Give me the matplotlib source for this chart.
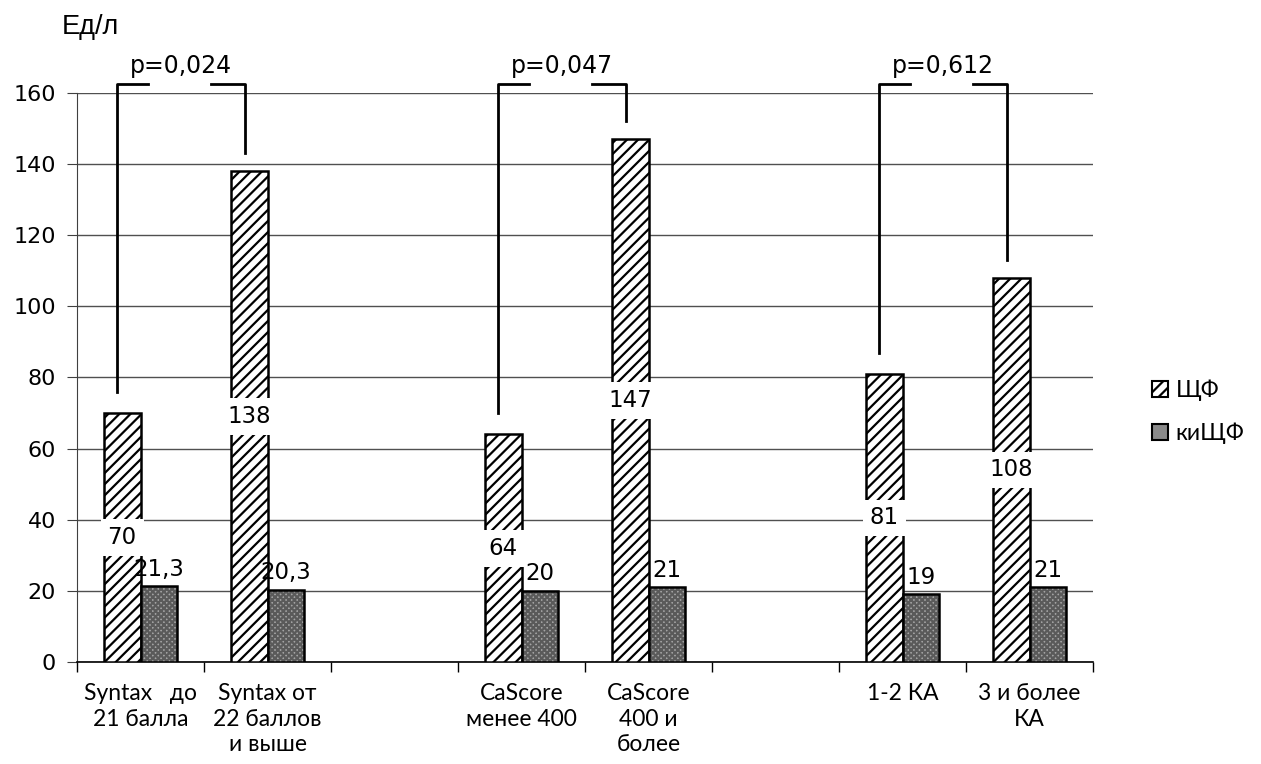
import matplotlib
matplotlib.use('Agg')
import matplotlib.pyplot as plt
from matplotlib.patches import Patch
import numpy as np

categories = ['Syntax   до\n21 балла', 'Syntax от\n22 баллов\nи выше',
              'CaScore\nменее 400', 'CaScore\n400 и\nболее',
              '1-2 КА', '3 и более\nКА']
shf = [70, 138, 64, 147, 81, 108]
kishf = [21.3, 20.3, 20, 21, 19, 21]
p_values = ['p=0,024', 'p=0,047', 'p=0,612']
series_names = ['ЩФ', 'киЩФ']

plt.rcParams['hatch.linewidth'] = 1.6
label_font = 'Lato'

fig = plt.figure(figsize=(12.61, 7.64), dpi=100)
ax = fig.add_axes([0.0611, 0.1335, 0.8057, 0.7448])

# пары столбцов, между парами пустой слот
x = np.arange(len(categories))
x = x + x // 2
w = 0.29

ax.bar(x - w / 2, shf, w, color='white', edgecolor='black', hatch='///',
       linewidth=1.8, zorder=3)
ax.bar(x + w / 2, kishf, w, color='#a4a4a4', edgecolor='#5a5a5a', hatch='xxxxxx',
       linewidth=0, zorder=3)
ax.bar(x + w / 2, kishf, w, fill=False, edgecolor='black', linewidth=1.8, zorder=4)

for xi, v in zip(x, shf):
    ax.text(xi - w / 2, v / 2, str(v), ha='center', va='center', fontsize=16.5,
            bbox=dict(boxstyle='square,pad=0.3', fc='white', ec='none'), zorder=6)
for xi, v in zip(x, kishf):
    ax.annotate(f'{v:g}'.replace('.', ','), (xi + w / 2, v), xytext=(0, 4),
                textcoords='offset points', ha='center', va='bottom', fontsize=16.5,
                zorder=6)

# скобки с уровнем значимости
top = 162.5
for k, p in enumerate(p_values):
    i, j = 2 * k, 2 * k + 1
    left = x[i] - w / 2 - 0.04
    right = x[j] - w / 2 - 0.03
    ax.plot([left, left, left + 0.24], [shf[i] + 6, top, top], color='black',
            lw=2, clip_on=False, zorder=5)
    ax.plot([right - 0.27, right, right], [top, top, shf[j] + 5], color='black',
            lw=2, clip_on=False, zorder=5)
    ax.text((left + right) / 2, top + 5, p, ha='center', va='center', fontsize=17)

ax.set_xlim(-0.5, x[-1] + 0.5)
ax.set_ylim(0, 160)
ax.set_yticks(np.arange(0, 161, 20))
ax.tick_params(axis='y', labelsize=16, length=7, color='#404040', pad=8)
ax.set_xticks(x)
ax.set_xticklabels(categories, fontsize=16.5, family=label_font, linespacing=1.28)
ax.tick_params(axis='x', which='major', length=0, pad=15)
ax.set_xticks(np.arange(-0.5, x[-1] + 1), minor=True)
ax.tick_params(axis='x', which='minor', length=7, width=1, color='black')

ax.grid(axis='y', color='#505050', linewidth=1)
ax.set_axisbelow(True)
for s in ['top', 'right']:
    ax.spines[s].set_visible(False)
ax.spines['left'].set_color('#404040')
ax.spines['bottom'].set_color('black')
ax.spines['bottom'].set_linewidth(1.2)

fig.text(62 / 1261, 1 - 27 / 764, 'Ед/л', fontsize=19.5, family='Liberation Sans',
         ha='left', va='center')

handles = [Patch(facecolor='white', edgecolor='black', hatch='///', linewidth=1.5,
                 label=series_names[0]),
           Patch(facecolor='#8a8a8a', edgecolor='black', linewidth=1.5,
                 label=series_names[1])]
fig.legend(handles=handles, loc='center left',
           bbox_to_anchor=(1131 / 1261, 1 - 412 / 764), frameon=False,
           prop={'family': label_font, 'size': 16.5}, handlelength=0.7,
           handleheight=0.7, labelspacing=0.95, handletextpad=0.35)

fig.savefig('out.png', dpi=100)
